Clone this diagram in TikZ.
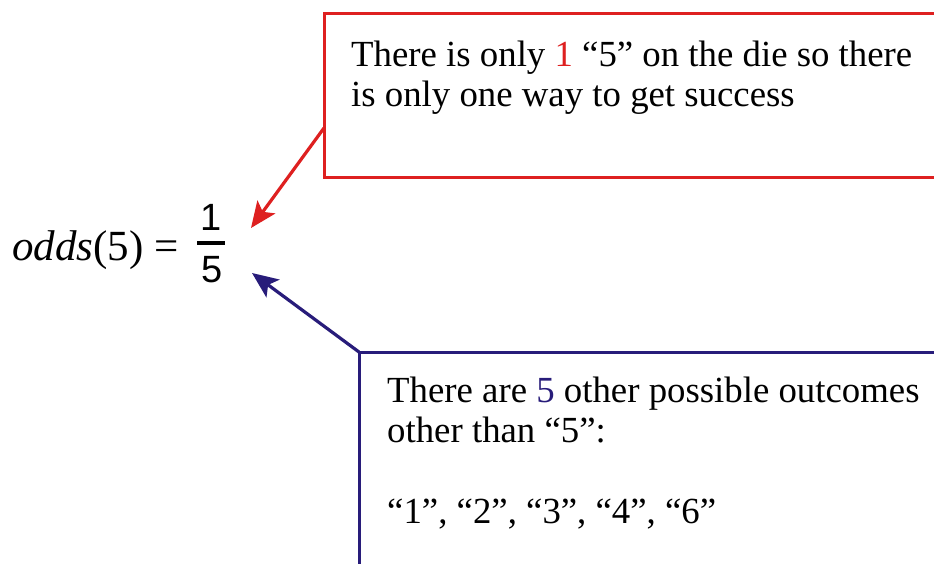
\documentclass[tikz,border=0pt]{standalone}
\usepackage{fontspec}
\setmainfont{Liberation Serif}
\newfontfamily\arialf{Liberation Sans}
\usetikzlibrary{arrows.meta}
\definecolor{redc}{RGB}{222,32,32}
\definecolor{bluec}{RGB}{40,28,122}
\begin{document}
\begin{tikzpicture}[x=1pt,y=-1pt,
  txt/.style={anchor=base west, inner sep=0pt, font=\fontsize{36.8}{40}\selectfont},
  boxframe/.style={rectangle, line width=3pt, inner sep=0pt, outer sep=0pt, anchor=north west, minimum width=700pt},
  redbox/.style={boxframe, draw=redc, minimum height=164pt},
  bluebox/.style={boxframe, draw=bluec, minimum height=300pt},
  callout/.style={line width=3.2pt, -{Stealth[length=26pt,width=22pt,inset=6pt]}},
  digit/.style={anchor=base, inner sep=0pt, font=\arialf\fontsize{38}{38}\selectfont}
]
\useasboundingbox (0,0) rectangle (934,563);
\fill[white] (0,0) rectangle (934,563);
\clip (0,0) rectangle (934,563);

% boxes
\node[redbox] (rbox) at (324,13) {};
\node[bluebox] (bbox) at (359,352) {};

% red box text
\node[txt] (r1) at (351,66) {There is only \textcolor{redc}{1} “5” on the die so there};
\node[txt] (r2) at (351,106) {is only one way to get success};

% blue box text
\node[txt] (b1) at (387,402) {There are \textcolor{bluec}{5} other possible outcomes};
\node[txt] (b2) at (387,442) {other than “5”:};
\node[txt] (b3) at (387,523) {“1”, “2”, “3”, “4”, “6”};

% formula
\node[anchor=base west, inner sep=0pt, font=\fontsize{43}{43}\selectfont] (lhs) at (12,260) {\textit{odds}(5) =};
\node[digit] (num) at (211,230) {1};
\node[digit] (den) at (212,282) {5};
\coordinate (barl) at (197,243);
\coordinate (barr) at (225,243);
\draw[line width=4pt] (barl) -- (barr);

% arrows
\coordinate (rtip) at (251,228);
\coordinate (btip) at (252,273);
\draw[callout, draw=redc, fill=redc] ([yshift=-115pt]rbox.north west) -- (rtip);
\draw[callout, draw=bluec, fill=bluec] (bbox.north west) -- (btip);
\end{tikzpicture}
\end{document}
